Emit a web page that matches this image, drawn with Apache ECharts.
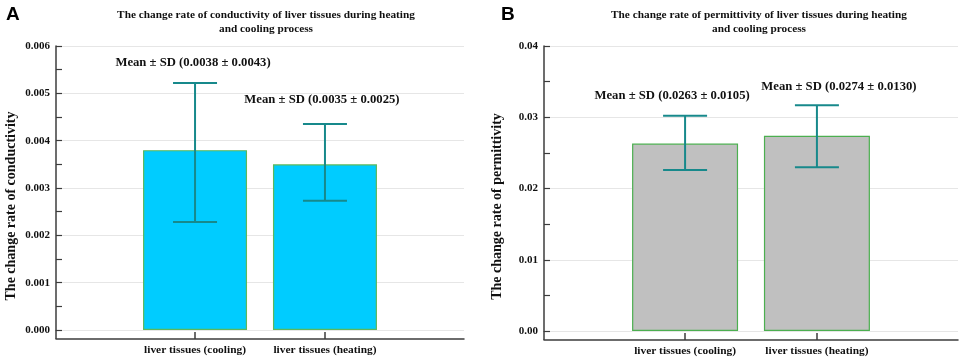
<!DOCTYPE html>
<html>
<head>
<meta charset="utf-8">
<script src="https://cdn.jsdelivr.net/npm/echarts@6/dist/echarts.min.js"></script>
<style>
    html, body { margin: 0; padding: 0; background: #fff; }
    #chart { width: 962px; height: 360px; }
</style>
</head>
<body>
<div id="chart"></div>
<script>
// categories sit at x = 1 and 2 on a value axis
const categories = ['liver tissues (cooling)', 'liver tissues (heating)']
const catPos = [1, 2]

// panel A: conductivity
const meanA = [0.0038, 0.0035]
const sdA = [0.0043, 0.0025]
const errLowA = [0.00228, 0.00273]
const errHighA = [0.00522, 0.00435]
const ticksA = [0, 0.001, 0.002, 0.003, 0.004, 0.005, 0.006]

// panel B: permittivity
const meanB = [0.0263, 0.0274]
const sdB = [0.0105, 0.0130]
const errLowB = [0.0226, 0.0230]
const errHighB = [0.0302, 0.0317]
const ticksB = [0, 0.01, 0.02, 0.03, 0.04]

const serif = 'Liberation Serif'
const axisColor = '#3c3c3c'
const errColor = '#17898b'

const chart = echarts.init(document.getElementById('chart'))

// error bar + "Mean ± SD" text, label shift is per item
const makeErrorRender = (shifts) => (params, api) => {
    const x = api.value(0)
    const lo = api.coord([x, api.value(1)])
    const hi = api.coord([x, api.value(2)])
    const half = 22
    const st = { stroke: errColor, lineWidth: 2 }
    const sh = shifts[params.dataIndex]
    return {
        type: 'group',
        children: [
            { type: 'line', shape: { x1: lo[0], y1: lo[1], x2: hi[0], y2: hi[1] }, style: st },
            { type: 'line', shape: { x1: hi[0] - half, y1: hi[1], x2: hi[0] + half, y2: hi[1] }, style: st },
            { type: 'line', shape: { x1: lo[0] - half, y1: lo[1], x2: lo[0] + half, y2: lo[1] }, style: st },
            {
                type: 'text',
                x: hi[0] + sh[0],
                y: hi[1] + sh[1],
                style: {
                    text: 'Mean ± SD (' + api.value(3).toFixed(4) + ' ± ' + api.value(4).toFixed(4) + ')',
                    fill: '#111',
                    font: 'bold 12.7px "' + serif + '"',
                    align: 'center',
                    verticalAlign: 'middle'
                }
            }
        ]
    }
}

const xAxisCfg = (gridIndex) => ({
    type: 'value',
    gridIndex: gridIndex,
    min: -0.07,
    max: 3.07,
    offset: 9,
    axisLine: { show: true, onZero: false, lineStyle: { color: axisColor, width: 1.5 } },
    axisTick: { show: true, inside: true, length: 7, customValues: catPos, lineStyle: { color: axisColor, width: 1.5 } },
    axisLabel: {
        customValues: catPos,
        formatter: (v) => categories[Math.round(v) - 1] || '',
        color: '#111', fontFamily: serif, fontWeight: 'bold', fontSize: 11.4, margin: 6
    },
    splitLine: { show: false }
})

const yAxisCfg = (gridIndex, ticks, digits, name, gap) => ({
    type: 'value',
    gridIndex: gridIndex,
    min: ticks[0],
    max: ticks[ticks.length - 1],
    interval: ticks[1] - ticks[0],
    name: name,
    nameLocation: 'middle',
    nameGap: gap,
    nameTextStyle: { color: '#111', fontFamily: serif, fontWeight: 'bold', fontSize: 14, padding: [0, 36, 0, 0] },
    axisLine: { show: true, onZero: false, lineStyle: { color: axisColor, width: 1.5 } },
    axisTick: { show: true, inside: true, length: 6, lineStyle: { color: axisColor, width: 1.2 } },
    minorTick: { show: true, splitNumber: 2, length: 6, lineStyle: { color: axisColor, width: 1.2 } },
    axisLabel: {
        formatter: (v) => v.toFixed(digits),
        color: '#111', fontFamily: serif, fontWeight: 'bold', fontSize: 11, margin: 6
    },
    splitLine: { show: true, lineStyle: { color: '#e6e6e6', width: 1 } }
})

chart.setOption({
    animation: false,
    title: [
        {
            text: 'The change rate of conductivity of liver tissues during heating\nand cooling process',
            left: 261, top: 3, textAlign: 'center',
            textStyle: { color: '#111', fontFamily: serif, fontWeight: 'bold', fontSize: 11.3, lineHeight: 14 }
        },
        {
            text: 'The change rate of permittivity of liver tissues during heating\nand cooling process',
            left: 754, top: 3, textAlign: 'center',
            textStyle: { color: '#111', fontFamily: serif, fontWeight: 'bold', fontSize: 11.3, lineHeight: 14 }
        },
        { text: 'A', left: 1, top: 0, textStyle: { color: '#000', fontFamily: 'Liberation Sans', fontWeight: 'bold', fontSize: 19 } },
        { text: 'B', left: 496, top: 0, textStyle: { color: '#000', fontFamily: 'Liberation Sans', fontWeight: 'bold', fontSize: 19 } }
    ],
    grid: [
        { left: 56, top: 46, width: 408, height: 284 },
        { left: 544, top: 46, width: 414, height: 285 }
    ],
    xAxis: [xAxisCfg(0), xAxisCfg(1)],
    yAxis: [
        yAxisCfg(0, ticksA, 3, 'The change rate of conductivity', 38),
        yAxisCfg(1, ticksB, 2, 'The change rate of permittivity', 40)
    ],
    series: [
        {
            type: 'bar', xAxisIndex: 0, yAxisIndex: 0, barWidth: 104,
            data: catPos.map((x, i) => [x, meanA[i]]),
            itemStyle: { color: '#00ccff', borderColor: '#5cb85c', borderWidth: 1.2 }
        },
        {
            type: 'custom', xAxisIndex: 0, yAxisIndex: 0, clip: false, z: 5,
            renderItem: makeErrorRender([[-2, -20], [-3, -24]]),
            data: catPos.map((x, i) => [x, errLowA[i], errHighA[i], meanA[i], sdA[i]])
        },
        {
            type: 'bar', xAxisIndex: 1, yAxisIndex: 1, barWidth: 106,
            data: catPos.map((x, i) => [x, meanB[i]]),
            itemStyle: { color: '#c0c0c0', borderColor: '#4caf50', borderWidth: 1.2 }
        },
        {
            type: 'custom', xAxisIndex: 1, yAxisIndex: 1, clip: false, z: 5,
            renderItem: makeErrorRender([[-13, -20], [22, -18]]),
            data: catPos.map((x, i) => [x, errLowB[i], errHighB[i], meanB[i], sdB[i]])
        }
    ]
})

// the y axis line runs down to the offset x axis line
const extendY = (gi) => {
    const p = chart.convertToPixel({ gridIndex: gi }, [-0.07, 0])
    return {
        type: 'line',
        shape: { x1: p[0], y1: p[1], x2: p[0], y2: p[1] + 9 },
        style: { stroke: axisColor, lineWidth: 1.5 }
    }
}
chart.setOption({ graphic: [extendY(0), extendY(1)] })
</script>
</body>
</html>
